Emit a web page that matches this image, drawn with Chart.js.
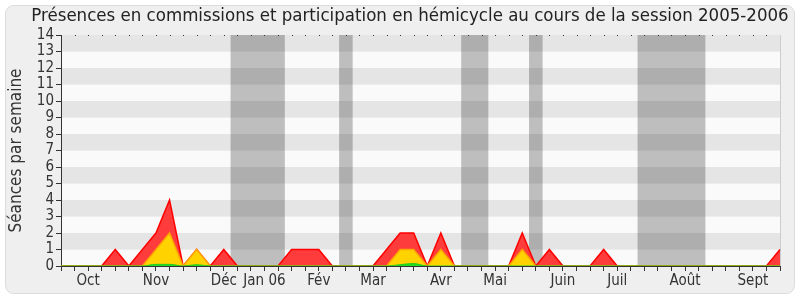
<!DOCTYPE html>
<html>
<head>
<meta charset="utf-8">
<script src="https://cdn.jsdelivr.net/npm/chart.js@4"></script>
<style>
  body { margin: 0; background: #ffffff; }
  #wrap { width: 800px; height: 300px; }
</style>
</head>
<body>
<div id="wrap"><canvas id="presenceChart" width="800" height="300"></canvas></div>
<script>
// Weekly data, session 2005-2006 (54 weeks)
const chartTitle = 'Présences en commissions et participation en hémicycle au cours de la session 2005-2006';
const monthNames = ['Oct', 'Nov', 'Déc', 'Jan 06', 'Fév', 'Mar', 'Avr', 'Mai', 'Juin', 'Juil', 'Août', 'Sept'];
const monthWeeks = [2, 7, 12, 15, 19, 23, 28, 32, 37, 41, 46, 51];

const totalSeances = [0, 0, 0, 0, 1, 0, 1, 2, 4, 0, 1, 0, 1, 0, 0, 0, 0, 1, 1, 1,
    0, 0, 0, 0, 1, 2, 2, 0, 2, 0, 0, 0, 0, 0, 2, 0, 1, 0, 0, 0,
    1, 0, 0, 0, 0, 0, 0, 0, 0, 0, 0, 0, 0, 1];
const commissionSeances = [0, 0, 0, 0, 0, 0, 0, 1, 2, 0, 1, 0, 0, 0, 0, 0, 0, 0, 0, 0,
    0, 0, 0, 0, 0, 1, 1, 0, 1, 0, 0, 0, 0, 0, 1, 0, 0, 0, 0, 0,
    0, 0, 0, 0, 0, 0, 0, 0, 0, 0, 0, 0, 0, 0];
const hemicycleSeances = [0, 0, 0, 0, 0, 0, 0, 0.1, 0.1, 0, 0.08, 0, 0, 0, 0, 0, 0, 0, 0, 0,
    0, 0, 0, 0, 0, 0.08, 0.15, 0, 0, 0, 0, 0, 0, 0, 0, 0, 0, 0, 0, 0,
    0, 0, 0, 0, 0, 0, 0, 0, 0, 0, 0, 0, 0, 0];

// Parliamentary recess periods (in weeks)
const vacationStart = [12.5, 20.5, 29.5, 34.5, 42.5];
const vacationEnd = [16.5, 21.5, 31.5, 35.5, 47.5];

const weekLabels = totalSeances.map((v, i) => {
    const m = monthWeeks.indexOf(i);
    return m >= 0 ? monthNames[m] : '';
});

const FONT = '"DejaVu Sans Condensed", "DejaVu Sans", sans-serif';

// Frame, striped background and recess bands
const backgroundPlugin = {
    id: 'background',
    beforeDraw(chart) {
        const ctx = chart.ctx;
        const area = chart.chartArea;
        const x = chart.scales.x;
        const y = chart.scales.y;
        ctx.save();
        ctx.fillStyle = '#ffffff';
        ctx.fillRect(0, 0, chart.width, chart.height);
        ctx.beginPath();
        ctx.roundRect(5.5, 5.5, 789, 288, 8);
        ctx.fillStyle = '#efefef';
        ctx.fill();
        ctx.strokeStyle = '#dcdcdc';
        ctx.lineWidth = 1;
        ctx.stroke();

        for (let v = 0; v < 14; v++) {
            const top = y.getPixelForValue(v + 1);
            const bottom = y.getPixelForValue(v);
            ctx.fillStyle = v % 2 === 1 ? '#e5e5e5' : '#fafafa';
            ctx.fillRect(area.left, top, area.right - area.left, bottom - top);
        }

        ctx.fillStyle = 'rgba(0, 0, 0, 0.24)';
        vacationStart.forEach((s, i) => {
            const x1 = x.getPixelForValue(s);
            const x2 = x.getPixelForValue(vacationEnd[i]);
            ctx.fillRect(x1, area.top, x2 - x1, area.bottom - area.top);
        });

        // dotted top edge
        ctx.fillStyle = '#333333';
        for (let i = 0; i < weekLabels.length; i++) {
            const px = Math.round(x.getPixelForValue(i));
            ctx.fillRect(px, area.top, 1, 1);
        }
        ctx.strokeStyle = '#cccccc';
        ctx.beginPath();
        ctx.moveTo(area.right + 0.5, area.top);
        ctx.lineTo(area.right + 0.5, area.bottom);
        ctx.stroke();

        // title, centred a little right of the canvas centre like the original
        ctx.fillStyle = '#222222';
        ctx.font = '18.5px ' + FONT;
        ctx.textAlign = 'center';
        ctx.textBaseline = 'middle';
        ctx.fillText(chartTitle, 410, 16);
        ctx.restore();
    }
};

new Chart(document.getElementById('presenceChart').getContext('2d'), {
    type: 'line',
    data: {
        labels: weekLabels,
        datasets: [{
            label: 'Séances',
            data: totalSeances,
            borderColor: '#ff0000',
            backgroundColor: '#ff3c3c',
            borderWidth: 1.5,
            fill: 'origin',
            pointRadius: 0,
            tension: 0,
            order: 3
        }, {
            label: 'Commission',
            data: commissionSeances,
            borderColor: '#ffa500',
            backgroundColor: '#ffd200',
            borderWidth: 1.5,
            fill: 'origin',
            pointRadius: 0,
            tension: 0,
            order: 2
        }, {
            label: 'Hémicycle',
            data: hemicycleSeances,
            borderColor: '#22cc22',
            backgroundColor: '#22dd22',
            borderWidth: 1,
            fill: 'origin',
            pointRadius: 0,
            cubicInterpolationMode: 'monotone',
            order: 1
        }]
    },
    options: {
        responsive: false,
        animation: false,
        layout: {
            padding: { left: 6, right: 20, top: 35, bottom: 8 }
        },
        plugins: {
            legend: { display: false },
            tooltip: { enabled: false },
            title: { display: false }
        },
        scales: {
            x: {
                offset: false,
                grid: {
                    drawOnChartArea: false,
                    tickLength: 5,
                    color: '#333333'
                },
                border: { display: true, color: '#333333' },
                ticks: {
                    autoSkip: false,
                    maxRotation: 0,
                    minRotation: 0,
                    padding: 1,
                    color: '#333333',
                    font: { family: FONT, size: 15 }
                },
                afterFit: scale => { scale.height = 26; }
            },
            y: {
                min: 0,
                max: 14,
                grid: {
                    drawOnChartArea: false,
                    tickLength: 5,
                    color: '#333333'
                },
                border: { display: true, color: '#333333' },
                ticks: {
                    stepSize: 1,
                    autoSkip: false,
                    padding: 2,
                    color: '#333333',
                    font: { family: FONT, size: 15 }
                },
                title: {
                    display: true,
                    text: 'Séances par semaine',
                    color: '#333333',
                    font: { family: FONT, size: 17 },
                    padding: { top: 0, bottom: 2 }
                },
                afterFit: scale => { scale.width = 55; }
            }
        }
    },
    plugins: [backgroundPlugin]
});
</script>
</body>
</html>
